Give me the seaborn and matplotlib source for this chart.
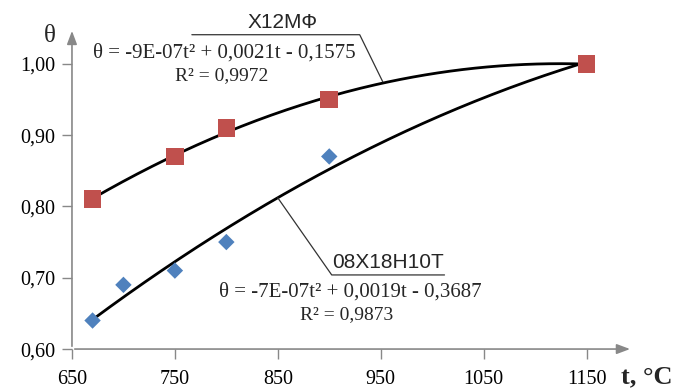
import numpy as np
import pandas as pd
import matplotlib.pyplot as plt
import seaborn as sns

# measured points
t_x12mf = [670, 750, 800, 900, 1150]
theta_x12mf = [0.81, 0.87, 0.91, 0.95, 1.00]
t_08x18 = [670, 700, 750, 800, 900, 1150]
theta_08x18 = [0.64, 0.69, 0.71, 0.75, 0.87, 1.00]

x_ticks = [650, 750, 850, 950, 1050, 1150]
y_ticks = [0.60, 0.70, 0.80, 0.90, 1.00]

sns.set_style("white")
plt.rcParams['font.family'] = ['Liberation Serif', 'DejaVu Serif']

fig = plt.figure(figsize=(6.79, 3.90), dpi=100)
ax = fig.add_axes([0.106, 0.105, 0.826, 0.823])

# trend lines (2nd order polynomial, like Excel)
tt = np.linspace(670, 1150, 200)
fits = []
for t, th in [(t_x12mf, theta_x12mf), (t_08x18, theta_08x18)]:
    c = np.polyfit(t, th, 2)
    fits.append(pd.DataFrame({"t": tt, "theta": np.polyval(c, tt)}))
for f in fits:
    sns.lineplot(data=f, x="t", y="theta", color="black", lw=2, ax=ax, zorder=2)

df_b = pd.DataFrame({"t": t_08x18, "theta": theta_08x18})
df_r = pd.DataFrame({"t": t_x12mf, "theta": theta_x12mf})
sns.scatterplot(data=df_b, x="t", y="theta", marker="D", s=70, color="#4F81BD",
                edgecolor="none", ax=ax, zorder=3)
sns.scatterplot(data=df_r, x="t", y="theta", marker="s", s=160, color="#C0504D",
                edgecolor="none", ax=ax, zorder=3)

ax.set_xlim(650, 1195)
ax.set_ylim(0.60, 1.05)
ax.set_xticks(x_ticks)
ax.set_yticks(y_ticks)
ax.set_xticklabels([str(v) for v in x_ticks])
ax.set_yticklabels([f"{v:.2f}".replace(".", ",") for v in y_ticks])
ax.tick_params(axis="both", labelsize=14.5, colors="#888888", labelcolor="black",
               length=7, width=1, direction="out", bottom=True, left=True)
ax.tick_params(axis="x", pad=8)
ax.tick_params(axis="y", pad=5)
ax.set_xlabel("")
ax.set_ylabel("")
for s in ax.spines.values():
    s.set_visible(False)

# axis arrows
arrow = dict(arrowstyle="-|>,head_length=0.8,head_width=0.3", color="#888888", lw=1.2)
ax.annotate("", xy=(1.0, 0), xytext=(0, 0), xycoords="axes fraction", arrowprops=arrow)
ax.annotate("", xy=(0, 1.0), xytext=(0, 0), xycoords="axes fraction", arrowprops=arrow)

fig.text(0.074, 0.908, "θ", fontsize=18, ha="center", va="center")
fig.text(0.914, 0.035, "t, °C", fontsize=19, fontweight="bold", ha="left", va="center")

# annotations
sans = ['Liberation Sans Narrow', 'Liberation Sans', 'DejaVu Sans']
ax.text(855, 1.0575, "Х12МФ", family=sans, fontsize=15, ha="center", va="center", clip_on=False)
ax.plot([766.5, 929.6, 952], [1.0407, 1.0407, 0.9747], color="#333333", lw=0.9, clip_on=False)
ax.text(798.5, 1.0154, "θ = -9E-07t² + 0,0021t - 0,1575", fontsize=15, ha="center", va="center")
ax.text(795.6, 0.983, "R² = 0,9972", fontsize=14, ha="center", va="center")

ax.text(957, 0.722, "08Х18Н10Т", family=sans, fontsize=15, ha="center", va="center")
ax.plot([1012, 902.4, 850], [0.7039, 0.7039, 0.812], color="#333333", lw=0.9)
ax.text(920, 0.680, "θ = -7E-07t² + 0,0019t - 0,3687", fontsize=15, ha="center", va="center")
ax.text(917, 0.6477, "R² = 0,9873", fontsize=14, ha="center", va="center")

fig.savefig("out.png", dpi=100)
